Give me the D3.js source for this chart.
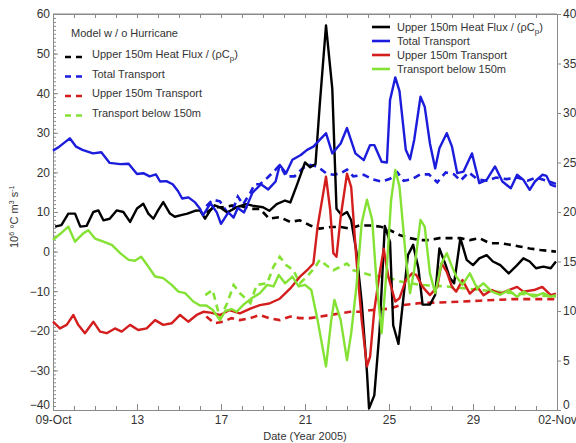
<!DOCTYPE html>
<html>
<head>
<meta charset="utf-8">
<script src="https://cdn.jsdelivr.net/npm/d3@7"></script>
<style>
  body { margin: 0; background: #fff; }
  svg { font-family: "Liberation Sans", Arial, sans-serif; }
</style>
</head>
<body>
<div id="chart"></div>
<script>
// x values are days after 09-Oct-2005, y values in left axis units (10^6 °C m^3 s^-1)
var xTickDays = [0, 4, 8, 12, 16, 20, 24];
var xTickLabels = ["09-Oct", "13", "17", "21", "25", "29", "02-Nov"];

// with hurricane (solid)
var heatFlux = [[0.1,6.3],[0.4,6.7],[0.73,9.6],[1.05,9.6],[1.3,6.3],[1.6,6.5],[1.92,10],[2.16,10.4],[2.4,7.9],[2.7,8.3],[3.03,10.4],[3.35,10],[3.67,7.5],[4.0,10.9],[4.3,12.1],[4.54,9.6],[4.78,8.3],[5.0,10.4],[5.25,12.5],[5.57,9.6],[5.8,8.8],[6.1,9.2],[6.4,9.6],[6.76,10.3],[7.0,10.4],[7.24,8.3],[7.5,10.5],[7.7,11.7],[7.95,11.2],[8.3,9.9],[8.75,11.2],[9.2,12],[9.5,11.6],[10,11.2],[10.3,10.3],[10.65,12],[11.05,12.9],[11.3,12.4],[11.6,16.6],[12.0,22.5],[12.25,21.3],[12.5,22.1],[12.7,36.9],[13.0,57.1],[13.3,41.1],[13.5,10.8],[13.75,9.2],[14,10],[14.2,7.9],[14.45,-0.1],[14.7,-12.8],[14.95,-30.4],[15.05,-39.6],[15.3,-36.3],[15.55,-20],[15.8,6.5],[16.05,2.4],[16.2,-18.6],[16.45,-23.3],[16.7,-11],[16.9,-0.9],[17.15,1.7],[17.4,-4.2],[17.6,-13.4],[17.95,-13.4],[18.2,-10.9],[18.4,0.8],[18.7,-3.4],[18.9,-6.7],[19.1,-8],[19.4,3.4],[19.7,-2.1],[20.0,-3.4],[20.3,-1.7],[20.65,-0.9],[20.95,-2.5],[21.3,-3.4],[21.7,-5.5],[22.1,-3.4],[22.4,-1.7],[22.7,-2.5],[23.0,-4.2],[23.35,-3.8],[23.7,-4.2],[23.95,-2.5]];
var totalTransport = [[0.0,25.5],[0.3,26.5],[0.8,28.6],[1.1,26.5],[1.4,25.7],[1.9,24.8],[2.3,25.1],[2.7,22.4],[3.2,22.1],[3.6,22.2],[4.0,19.6],[4.3,19.8],[4.6,19],[4.9,19.5],[5.1,17.7],[5.4,17.8],[5.7,17],[5.95,15.3],[6.15,13.4],[6.45,13.7],[6.75,12.5],[7.0,10.8],[7.15,9.2],[7.5,12.2],[7.8,9.9],[8.0,7],[8.35,9.9],[8.6,8.6],[8.8,11],[9.1,9.9],[9.5,14.9],[9.9,17],[10.25,15.7],[10.6,17.7],[10.8,21.9],[11.1,19.8],[11.4,23.2],[11.8,24.4],[12.1,25.7],[12.4,26.5],[12.7,28.2],[13.0,29.9],[13.3,24.8],[13.7,27.3],[14.0,31.2],[14.4,24.8],[14.8,23.1],[15.1,26.9],[15.3,26.9],[15.65,22.7],[15.9,22.5],[16.05,38.3],[16.3,44],[16.5,40.5],[16.8,25.7],[17.0,23.3],[17.2,28.2],[17.5,39.1],[17.7,36.6],[17.95,27.3],[18.2,21],[18.4,26.1],[18.75,29.9],[19.0,26.5],[19.25,19.8],[19.55,20.2],[19.95,24.8],[20.3,17.3],[20.65,18.1],[21.05,21.5],[21.4,17.7],[21.8,16],[22.1,19.4],[22.4,18.1],[22.7,15.6],[22.95,17.7],[23.3,19.4],[23.5,19.1],[23.7,16.9],[23.95,16.4]];
var upperTransport = [[0,-17.7],[0.33,-19.4],[0.65,-18.5],[0.97,-16],[1.2,-18.5],[1.52,-20.6],[1.92,-17.7],[2.24,-20.2],[2.56,-20.6],[2.95,-19.4],[3.27,-20.2],[3.67,-18.5],[4.06,-19.8],[4.46,-19.4],[4.86,-17.3],[5.25,-18.5],[5.65,-18.1],[6.05,-16],[6.44,-17.7],[6.84,-16],[7.16,-15.2],[7.5,-15.4],[7.95,-16],[8.4,-14.8],[8.9,-15.6],[9.4,-14.4],[9.85,-13.5],[10.3,-13.1],[10.8,-11.9],[11.3,-9.3],[11.75,-6.4],[12.1,-4.7],[12.4,-3],[12.6,6.3],[13.0,18.9],[13.2,10.5],[13.35,-0.4],[13.5,-1.3],[13.7,8.8],[14.0,19.7],[14.2,16.3],[14.45,-2.1],[14.7,-17.3],[14.95,-29],[15.1,-26.5],[15.3,-14.8],[15.55,-5.6],[15.75,0.7],[15.97,-6.4],[16.3,-12.6],[16.5,-11.8],[16.8,-7.2],[17.1,-5.5],[17.3,-5.9],[17.6,-8.9],[17.95,-11],[18.3,-8.9],[18.5,-3],[18.75,-5.1],[19.0,-8.9],[19.2,-10.1],[19.5,-7.2],[19.85,-10.6],[20.2,-8.9],[20.5,-11],[20.9,-9.7],[21.3,-10.6],[21.7,-9.7],[22.1,-8.9],[22.4,-10.1],[22.9,-9.7],[23.3,-8.9],[23.7,-11],[23.95,-10.6]];
var lowerTransport = [[0,3],[0.35,4.5],[0.73,6.3],[1.05,2.5],[1.44,4.6],[1.68,5.4],[2.0,3.3],[2.4,2.5],[2.8,1.7],[3.2,-0.4],[3.6,-2.1],[3.9,-2.3],[4.2,-1.3],[4.54,-3.8],[4.86,-6.3],[5.25,-6.7],[5.65,-8.4],[5.97,-10.1],[6.29,-10.5],[6.68,-12.6],[7.0,-13.6],[7.3,-13.6],[7.6,-14.7],[7.95,-17.3],[8.2,-15],[8.5,-14.5],[8.75,-15.2],[9.05,-13.5],[9.45,-11.8],[9.85,-10.5],[10.2,-8.4],[10.5,-8.8],[10.75,-5.9],[11.05,-8],[11.4,-6.3],[11.7,-8.8],[12.0,-8.4],[12.3,-9.7],[12.6,-17.3],[13.0,-29],[13.25,-17.3],[13.4,-12.2],[13.7,-17.3],[14.0,-27.4],[14.2,-20.6],[14.45,-8.8],[14.7,7.2],[14.95,13.1],[15.2,8],[15.4,-7.2],[15.65,-20.6],[15.9,-3.8],[16.1,13],[16.3,20.6],[16.5,16.4],[16.8,-1.3],[17.0,-10.5],[17.2,-4.7],[17.5,8],[17.7,6.3],[17.95,-5.5],[18.2,-10.5],[18.5,-3],[18.75,-0.4],[19.0,-3.8],[19.2,-6.3],[19.5,-8.4],[19.85,-5.5],[20.2,-9.3],[20.5,-8],[20.9,-10.1],[21.3,-10.9],[21.7,-9.7],[22.1,-11.4],[22.4,-10.1],[22.9,-11.4],[23.35,-10.5],[23.7,-11.4],[23.95,-11]];

// model without hurricane (dashed)
var heatFluxNoH = [[7.3,9.9],[7.7,11.2],[8.1,11.2],[8.5,11.6],[8.9,11.6],[9.4,10.8],[9.85,10.8],[10.3,8.3],[10.8,8.7],[11.3,7.5],[11.75,7.9],[12.25,6.6],[12.7,5.8],[13.2,6.2],[13.7,6.2],[14.15,5.8],[14.6,6.6],[15.1,6.6],[15.6,6.3],[16.05,5.4],[16.5,4.2],[17,3.4],[17.5,2.9],[17.95,2.9],[18.4,3.4],[18.9,3.4],[19.4,3.4],[19.85,2.9],[20.3,3.4],[20.8,2.1],[21.3,2.1],[21.8,1.7],[22.2,1.3],[22.7,0.8],[23.2,0.4],[23.95,0]];
var totalTransportNoH = [[7.3,11.5],[7.6,13.1],[7.95,12.7],[8.3,9.9],[8.6,11],[8.8,13.9],[9.05,11.9],[9.4,14.9],[9.6,17],[9.85,17],[10.2,18.6],[10.6,20.7],[10.8,21.9],[11.1,19],[11.5,19],[11.9,21.1],[12.2,21.9],[12.6,21.5],[13.0,19.8],[13.35,19.4],[13.7,19.8],[14.0,20.7],[14.3,19],[14.8,19.4],[15.25,18.2],[15.65,17.7],[16.05,18.4],[16.4,20],[16.7,17.9],[17.1,18.3],[17.5,19.5],[17.9,19.5],[18.3,17.5],[18.7,20],[19.1,19.5],[19.4,17.9],[19.8,20],[20.2,18.3],[20.65,17.9],[21.1,18.7],[21.6,18.3],[22.1,18.7],[22.6,17.9],[23.0,18.7],[23.5,17.9],[23.95,17.1]];
var upperTransportNoH = [[7.3,-16.4],[7.7,-18.1],[8.1,-17.7],[8.5,-16.8],[8.9,-17.3],[9.4,-16.8],[9.85,-16],[10.3,-16.8],[10.8,-17.3],[11.3,-16.4],[11.75,-16.8],[12.25,-16.8],[12.7,-16.4],[13.2,-16],[13.7,-15.6],[14.15,-15.2],[14.6,-15.2],[15.1,-14.8],[15.6,-14.6],[16.05,-14.4],[16.5,-13.6],[17.5,-13],[18.75,-12.8],[20.3,-12.4],[21.9,-12],[23.95,-12]];
var lowerTransportNoH = [[7.25,-11],[7.6,-9.7],[7.95,-16.8],[8.3,-13],[8.6,-8.4],[8.9,-10.5],[9.4,-13],[9.7,-8.4],[10.2,-8],[10.5,-3.8],[10.8,-1.3],[11.1,-3.4],[11.45,-4.7],[11.75,-8],[12.1,-6.3],[12.5,-3.8],[12.7,-2.1],[13.0,-3.4],[13.35,-4.7],[13.7,-3.8],[14.0,-3],[14.3,-4.7],[14.6,-5.1],[15.1,-5.9],[15.6,-6.3],[16.05,-6.7],[16.5,-7.5],[17.5,-8.4],[18.75,-8.8],[20.3,-9.7],[21.9,-10.5],[23.95,-11.4]];

var seriesColors = ["#000000", "#1c1cdc", "#d41e1e", "#84e234"];

var margin = { top: 14, right: 19, bottom: 33, left: 53 };
var width = 576 - margin.left - margin.right,
    height = 443 - margin.top - margin.bottom;

var svg = d3.select("#chart")
    .append("svg")
    .attr("width", 576)
    .attr("height", 443)
    .append("g")
    .attr("transform", "translate(" + margin.left + "," + margin.top + ")");

var x = d3.scaleLinear().domain([0, 24]).range([0, width]);
var y = d3.scaleLinear().domain([-40, 60]).range([height, 0]);
var yRight = d3.scaleLinear().domain([0, 40]).range([height, 0]);

var axisColor = "#8a8a8a";
var labelColor = "#333";

// minor ticks (inside)
svg.append("g")
    .call(d3.axisLeft(y).tickValues(d3.range(-40, 61, 1)).tickSize(-3).tickFormat(""));
svg.append("g")
    .attr("transform", "translate(0," + height + ")")
    .call(d3.axisBottom(x).tickValues(d3.range(0, 25, 1)).tickSize(-4).tickFormat(""));
svg.append("g")
    .call(d3.axisTop(x).tickValues(d3.range(0, 25, 1)).tickSize(-4).tickFormat(""));

// major axes
var yAxisG = svg.append("g")
    .call(d3.axisLeft(y).tickValues(d3.range(-40, 61, 10)).tickSize(-5).tickPadding(3));
svg.append("g")
    .attr("transform", "translate(0," + height + ")")
    .call(d3.axisBottom(x).tickValues(xTickDays).tickSize(-6).tickPadding(5)
        .tickFormat(function(d, i) { return xTickLabels[i]; }));
var yRightG = svg.append("g")
    .attr("transform", "translate(" + width + ",0)")
    .call(d3.axisRight(yRight).tickValues(d3.range(0, 41, 5)).tickSize(4).tickPadding(2));

svg.selectAll(".domain").attr("stroke", axisColor);
svg.selectAll(".tick line").attr("stroke", axisColor);
svg.selectAll(".tick text").attr("fill", labelColor).style("font-size", "12px");

// lowest labels sit a little above the corner, as in the original
yAxisG.selectAll(".tick text").filter(function(d) { return d === -40; }).attr("dy", "-0.1em");
yRightG.selectAll(".tick text").filter(function(d) { return d === 0; }).attr("dy", "-0.1em");

// top frame line
svg.append("line")
    .attr("x1", 0).attr("x2", width)
    .attr("y1", 0).attr("y2", 0)
    .attr("stroke", axisColor);

// axis labels
svg.append("text")
    .attr("x", width / 2)
    .attr("y", height + 30)
    .attr("text-anchor", "middle")
    .style("font-size", "11px")
    .attr("fill", labelColor)
    .text("Date (Year 2005)");

var yLab = svg.append("text")
    .attr("transform", "translate(-35," + (height / 2 + 36) + ") rotate(-90)")
    .attr("text-anchor", "start")
    .style("font-size", "11px")
    .attr("fill", labelColor);
yLab.append("tspan").text("10");
yLab.append("tspan").attr("dy", -4).style("font-size", "7px").text("6");
yLab.append("tspan").attr("dy", 4).text(" \u00B0C m");
yLab.append("tspan").attr("dy", -4).style("font-size", "7px").text("3");
yLab.append("tspan").attr("dy", 4).text(" s");
yLab.append("tspan").attr("dy", -4).style("font-size", "7px").text("-1");

// lines
var line = d3.line()
    .x(function(d) { return x(d[0]); })
    .y(function(d) { return y(d[1]); });

var plot = svg.append("g");

var dashedSeries = [heatFluxNoH, totalTransportNoH, upperTransportNoH, lowerTransportNoH];
var solidSeries = [heatFlux, totalTransport, upperTransport, lowerTransport];

dashedSeries.forEach(function(s, i) {
    plot.append("path")
        .datum(s)
        .attr("d", line)
        .attr("fill", "none")
        .attr("stroke", seriesColors[i])
        .attr("stroke-width", 2.6)
        .attr("stroke-dasharray", "7,5");
});

solidSeries.forEach(function(s, i) {
    plot.append("path")
        .datum(s)
        .attr("d", line)
        .attr("fill", "none")
        .attr("stroke", seriesColors[i])
        .attr("stroke-width", 2.4)
        .attr("stroke-linejoin", "round");
});

// legend text helper (adds subscript p)
function legendLabel(sel, name) {
    if (name.indexOf("Heat Flux") >= 0) {
        sel.append("tspan").text("Upper 150m Heat Flux / (\u03C1C");
        sel.append("tspan").attr("dy", 3).style("font-size", "8px").text("p");
        sel.append("tspan").attr("dy", -3).text(")");
    } else {
        sel.text(name);
    }
}

var legendNames = ["Upper 150m Heat Flux / (\u03C1Cp)", "Total Transport", "Upper 150m Transport", "Transport below 150m"];

// left legend (dashed, without hurricane)
var legL = svg.append("g").attr("transform", "translate(12,0)");
legL.append("text")
    .attr("x", 6).attr("y", 23)
    .style("font-size", "11px")
    .attr("fill", labelColor)
    .text("Model w / o  Hurricane");
legendNames.forEach(function(n, i) {
    var yy = 43 + i * 19.5;
    legL.append("line")
        .attr("x1", 0).attr("x2", 20)
        .attr("y1", yy).attr("y2", yy)
        .attr("stroke", seriesColors[i])
        .attr("stroke-width", 2.6)
        .attr("stroke-dasharray", "6,5");
    legendLabel(legL.append("text")
        .attr("x", 27).attr("y", yy + 1)
        .style("font-size", "11px")
        .attr("fill", labelColor), n);
});

// right legend (solid)
var legR = svg.append("g").attr("transform", "translate(319,0)");
legendNames.forEach(function(n, i) {
    var yy = 13 + i * 14;
    legR.append("line")
        .attr("x1", 0).attr("x2", 18)
        .attr("y1", yy).attr("y2", yy)
        .attr("stroke", seriesColors[i])
        .attr("stroke-width", 2.6);
    legendLabel(legR.append("text")
        .attr("x", 25).attr("y", yy + 4)
        .style("font-size", "11px")
        .attr("fill", labelColor), n);
});
</script>
</body>
</html>
